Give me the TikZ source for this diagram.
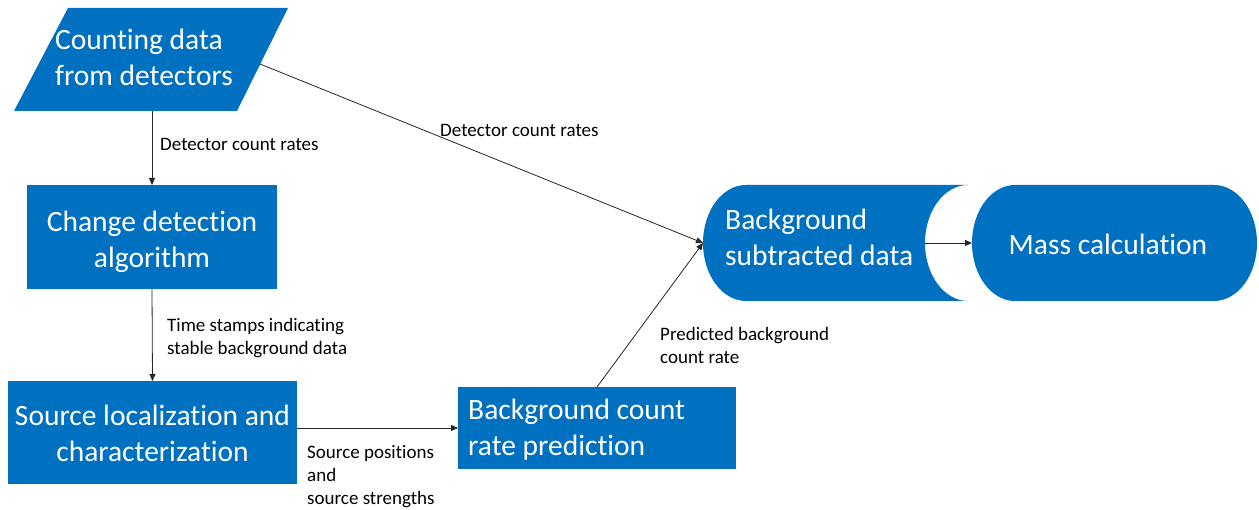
\documentclass[tikz,border=0pt]{standalone}
\usepackage{fontspec}
\setmainfont{Carlito}[Ligatures=NoCommon]
\usetikzlibrary{arrows.meta}
\definecolor{ablue}{RGB}{0,112,192}
\begin{document}
\begin{tikzpicture}[x=1pt,y=1pt,
  box/.style={fill=ablue, draw=none, inner sep=0pt, outer sep=0pt},
  big/.style={text=white, font=\fontsize{29.5}{36}\selectfont, align=center, inner sep=0pt},
  lbl/.style={font=\fontsize{19}{23}\selectfont, align=left, anchor=west, inner sep=0pt, text=black},
  conn/.style={draw=black!85, line width=0.8pt, -{Triangle[length=7pt,width=6pt]}}]
\useasboundingbox (0,0) rectangle (1259,510);
% input parallelogram
\fill[ablue] (68,502) -- (288,502) -- (237,399) -- (14,399) -- cycle;
\node[big, align=left] (cnt) at (144,452.5) {Counting data\\from detectors};
\coordinate (cntB) at (152,399);
\coordinate (cntR) at (260,446);
% change detection
\node[box, minimum width=250pt, minimum height=104pt] (chg) at (152,273) {};
\node[big] (chgT) at (152,268) {Change detection\\algorithm};
% source localization
\node[box, minimum width=289pt, minimum height=103pt] (src) at (152.5,77.5) {};
\node[big] (srcT) at (152.5,76.5) {Source localization and\\characterization};
% background count rate prediction
\node[box, minimum width=278pt, minimum height=82pt] (bcr) at (597,82) {};
\node[big, align=left, anchor=west] (bcrT) at (468,80.5) {Background count\\rate prediction};
% background subtracted data (stored data)
\fill[ablue] (746,325) -- (968,325) arc[start angle=90,end angle=270,x radius=43pt,y radius=58pt]
  -- (746,209) arc[start angle=270,end angle=90,x radius=43pt,y radius=58pt] -- cycle;
\node[big, align=left, anchor=west] (bsdT) at (725,272.5) {Background\\subtracted data};
\coordinate (bsdL) at (703,267);
\coordinate (bsdR) at (925,267);
% mass calculation
\fill[ablue] (1015,325) -- (1214,325) arc[start angle=90,end angle=-90,x radius=43pt,y radius=58pt]
  -- (1015,209) arc[start angle=270,end angle=90,x radius=43pt,y radius=58pt] -- cycle;
\node[big] (massT) at (1108,266) {Mass calculation};
\coordinate (massL) at (972,267);
% connectors
\draw[conn] (cntB) -- (chg.north);
\draw[conn] (chg.south) -- (src.north);
\draw[conn] (src.east |- bcr.west) -- (bcr.west);
\draw[conn] (bcr.north) -- (bsdL);
\draw[conn] (cntR) -- (bsdL);
\draw[conn] (bsdR) -- (massL);
% labels
\node[lbl] (l1) at (160,366) {Detector count rates};
\node[lbl] (l2) at (167,171.5) {Time stamps indicating\\stable background data};
\node[lbl] (l3) at (307,33) {Source positions\\and\\source strengths};
\node[lbl] (l4) at (660,165) {Predicted background\\count rate};
\node[lbl] (l5) at (440,380) {Detector count rates};
\end{tikzpicture}
\end{document}
